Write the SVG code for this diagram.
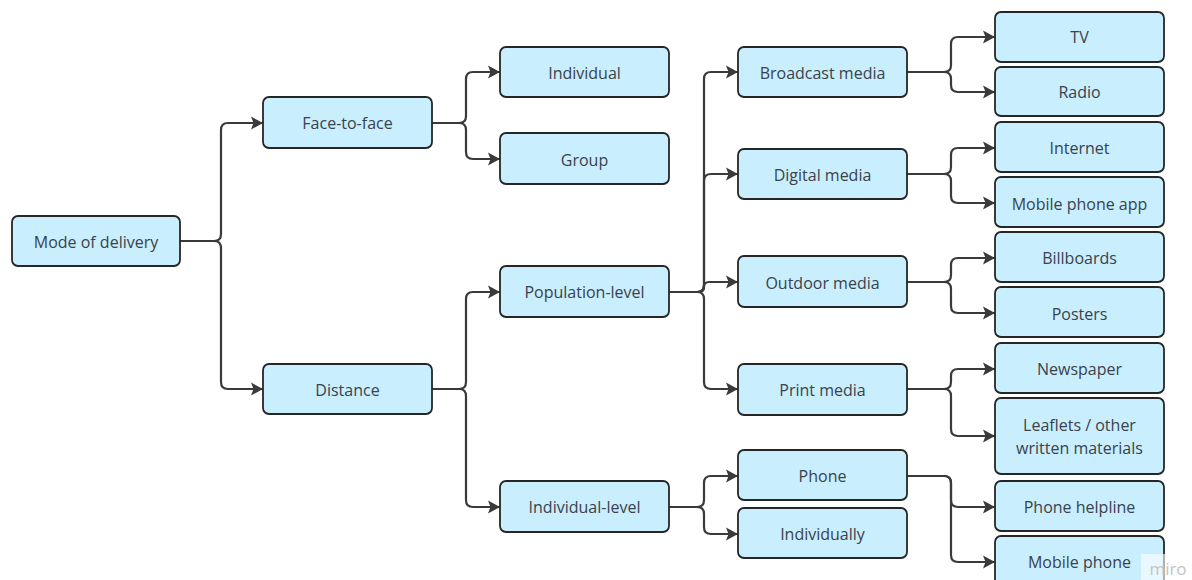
<svg xmlns="http://www.w3.org/2000/svg" width="1192" height="580" viewBox="0 0 1192 580">
<style>
.box{fill:#c9eefd;stroke:#262626;stroke-width:1.8}
.lbl{font-family:"Open Sans","Noto Sans",sans-serif;font-size:16px;fill:#3a424c;text-anchor:middle;dominant-baseline:central}
.con{fill:none;stroke:#3a3a3a;stroke-width:2.2;marker-end:url(#arr)}
</style>
<defs>
<marker id="arr" markerUnits="userSpaceOnUse" markerWidth="13" markerHeight="14" refX="12" refY="7" orient="auto">
<path d="M0,0.5 L12,7 L0,13.5 L2.5,7 z" fill="#3a3a3a"/>
</marker>
</defs>
<rect width="1192" height="580" fill="#ffffff"/>
<g id="connectors">
<path class="con" d="M180,241 H214 Q221,241 221,234 V130 Q221,123 228,123 H263"/>
<path class="con" d="M180,241 H214 Q221,241 221,248 V382 Q221,389 228,389 H263"/>
<path class="con" d="M432,123 H459 Q466,123 466,116 V79 Q466,72 473,72 H500"/>
<path class="con" d="M432,123 H459 Q466,123 466,130 V152 Q466,159 473,159 H500"/>
<path class="con" d="M432,389 H459 Q466,389 466,382 V299 Q466,292 473,292 H500"/>
<path class="con" d="M432,389 H459 Q466,389 466,396 V500 Q466,507 473,507 H500"/>
<path class="con" d="M669,292 H697 Q704,292 704,285 V79 Q704,72 711,72 H738"/>
<path class="con" d="M669,292 H697 Q704,292 704,285 V181 Q704,174 711,174 H738"/>
<path class="con" d="M669,292 H699 Q704,292 704,287 Q704,282 709,282 H738"/>
<path class="con" d="M669,292 H697 Q704,292 704,299 V382 Q704,389 711,389 H738"/>
<path class="con" d="M669,507 H697 Q704,507 704,500 V483 Q704,476 711,476 H738"/>
<path class="con" d="M669,507 H697 Q704,507 704,514 V527 Q704,534 711,534 H738"/>
<path class="con" d="M907,72 H944 Q951,72 951,65 V44 Q951,37 958,37 H995"/>
<path class="con" d="M907,72 H944 Q951,72 951,79 V85 Q951,92 958,92 H995"/>
<path class="con" d="M907,174 H944 Q951,174 951,167 V155 Q951,148 958,148 H995"/>
<path class="con" d="M907,174 H944 Q951,174 951,181 V196 Q951,203 958,203 H995"/>
<path class="con" d="M907,282 H944 Q951,282 951,275 V265 Q951,258 958,258 H995"/>
<path class="con" d="M907,282 H944 Q951,282 951,289 V306 Q951,313 958,313 H995"/>
<path class="con" d="M907,389 H944 Q951,389 951,382 V376 Q951,369 958,369 H995"/>
<path class="con" d="M907,389 H944 Q951,389 951,396 V429 Q951,436 958,436 H995"/>
<path class="con" d="M907,476 H944 Q951,476 951,483 V500 Q951,507 958,507 H995"/>
<path class="con" d="M907,476 H944 Q951,476 951,483 V555 Q951,562 958,562 H995"/>
</g>
<g id="mode"><rect class="box" x="12" y="216" width="168" height="50" rx="6"/><text class="lbl" x="96" y="242">Mode of delivery</text></g>
<g id="face"><rect class="box" x="263" y="97" width="169" height="51" rx="6"/><text class="lbl" x="347.5" y="123">Face-to-face</text></g>
<g id="distance"><rect class="box" x="263" y="364" width="169" height="50" rx="6"/><text class="lbl" x="347.5" y="390">Distance</text></g>
<g id="individual"><rect class="box" x="500" y="47" width="169" height="50" rx="6"/><text class="lbl" x="584.5" y="73">Individual</text></g>
<g id="group"><rect class="box" x="500" y="133" width="169" height="51" rx="6"/><text class="lbl" x="584.5" y="160">Group</text></g>
<g id="population"><rect class="box" x="500" y="266" width="169" height="51" rx="6"/><text class="lbl" x="584.5" y="292">Population-level</text></g>
<g id="indlevel"><rect class="box" x="500" y="481" width="169" height="51" rx="6"/><text class="lbl" x="584.5" y="507">Individual-level</text></g>
<g id="broadcast"><rect class="box" x="738" y="47" width="169" height="50" rx="6"/><text class="lbl" x="822.5" y="73">Broadcast media</text></g>
<g id="digital"><rect class="box" x="738" y="149" width="169" height="50" rx="6"/><text class="lbl" x="822.5" y="175">Digital media</text></g>
<g id="outdoor"><rect class="box" x="738" y="256" width="169" height="51" rx="6"/><text class="lbl" x="822.5" y="283">Outdoor media</text></g>
<g id="print"><rect class="box" x="738" y="364" width="169" height="51" rx="6"/><text class="lbl" x="822.5" y="390">Print media</text></g>
<g id="phone"><rect class="box" x="738" y="450" width="169" height="50" rx="6"/><text class="lbl" x="822.5" y="476">Phone</text></g>
<g id="individually"><rect class="box" x="738" y="508" width="169" height="50" rx="6"/><text class="lbl" x="822.5" y="534">Individually</text></g>
<g id="tv"><rect class="box" x="995" y="12" width="169" height="50" rx="6"/><text class="lbl" x="1079.5" y="37">TV</text></g>
<g id="radio"><rect class="box" x="995" y="67" width="169" height="49" rx="6"/><text class="lbl" x="1079.5" y="92">Radio</text></g>
<g id="internet"><rect class="box" x="995" y="122" width="169" height="50" rx="6"/><text class="lbl" x="1079.5" y="148">Internet</text></g>
<g id="mpa"><rect class="box" x="995" y="177" width="169" height="50" rx="6"/><text class="lbl" x="1079.5" y="204">Mobile phone app</text></g>
<g id="billboards"><rect class="box" x="995" y="232" width="169" height="50" rx="6"/><text class="lbl" x="1079.5" y="258">Billboards</text></g>
<g id="posters"><rect class="box" x="995" y="287" width="169" height="50" rx="6"/><text class="lbl" x="1079.5" y="314">Posters</text></g>
<g id="newspaper"><rect class="box" x="995" y="343" width="169" height="50" rx="6"/><text class="lbl" x="1079.5" y="369">Newspaper</text></g>
<g id="leaflets"><rect class="box" x="995" y="398" width="169" height="76" rx="6"/><text class="lbl" x="1079.5" y="425">Leaflets / other</text><text class="lbl" x="1079.5" y="448">written materials</text></g>
<g id="helpline"><rect class="box" x="995" y="481" width="169" height="50" rx="6"/><text class="lbl" x="1079.5" y="507">Phone helpline</text></g>
<g id="mobile"><rect class="box" x="995" y="536" width="169" height="50" rx="6"/><text class="lbl" x="1079.5" y="562">Mobile phone</text></g>
<g id="watermark"><rect x="1141" y="554" width="51" height="26" fill="#ffffff" opacity="0.6"/><text x="1168" y="568" font-family="Open Sans, sans-serif" font-size="17" fill="#c4c4c4" text-anchor="middle" dominant-baseline="central">miro</text></g>
</svg>
